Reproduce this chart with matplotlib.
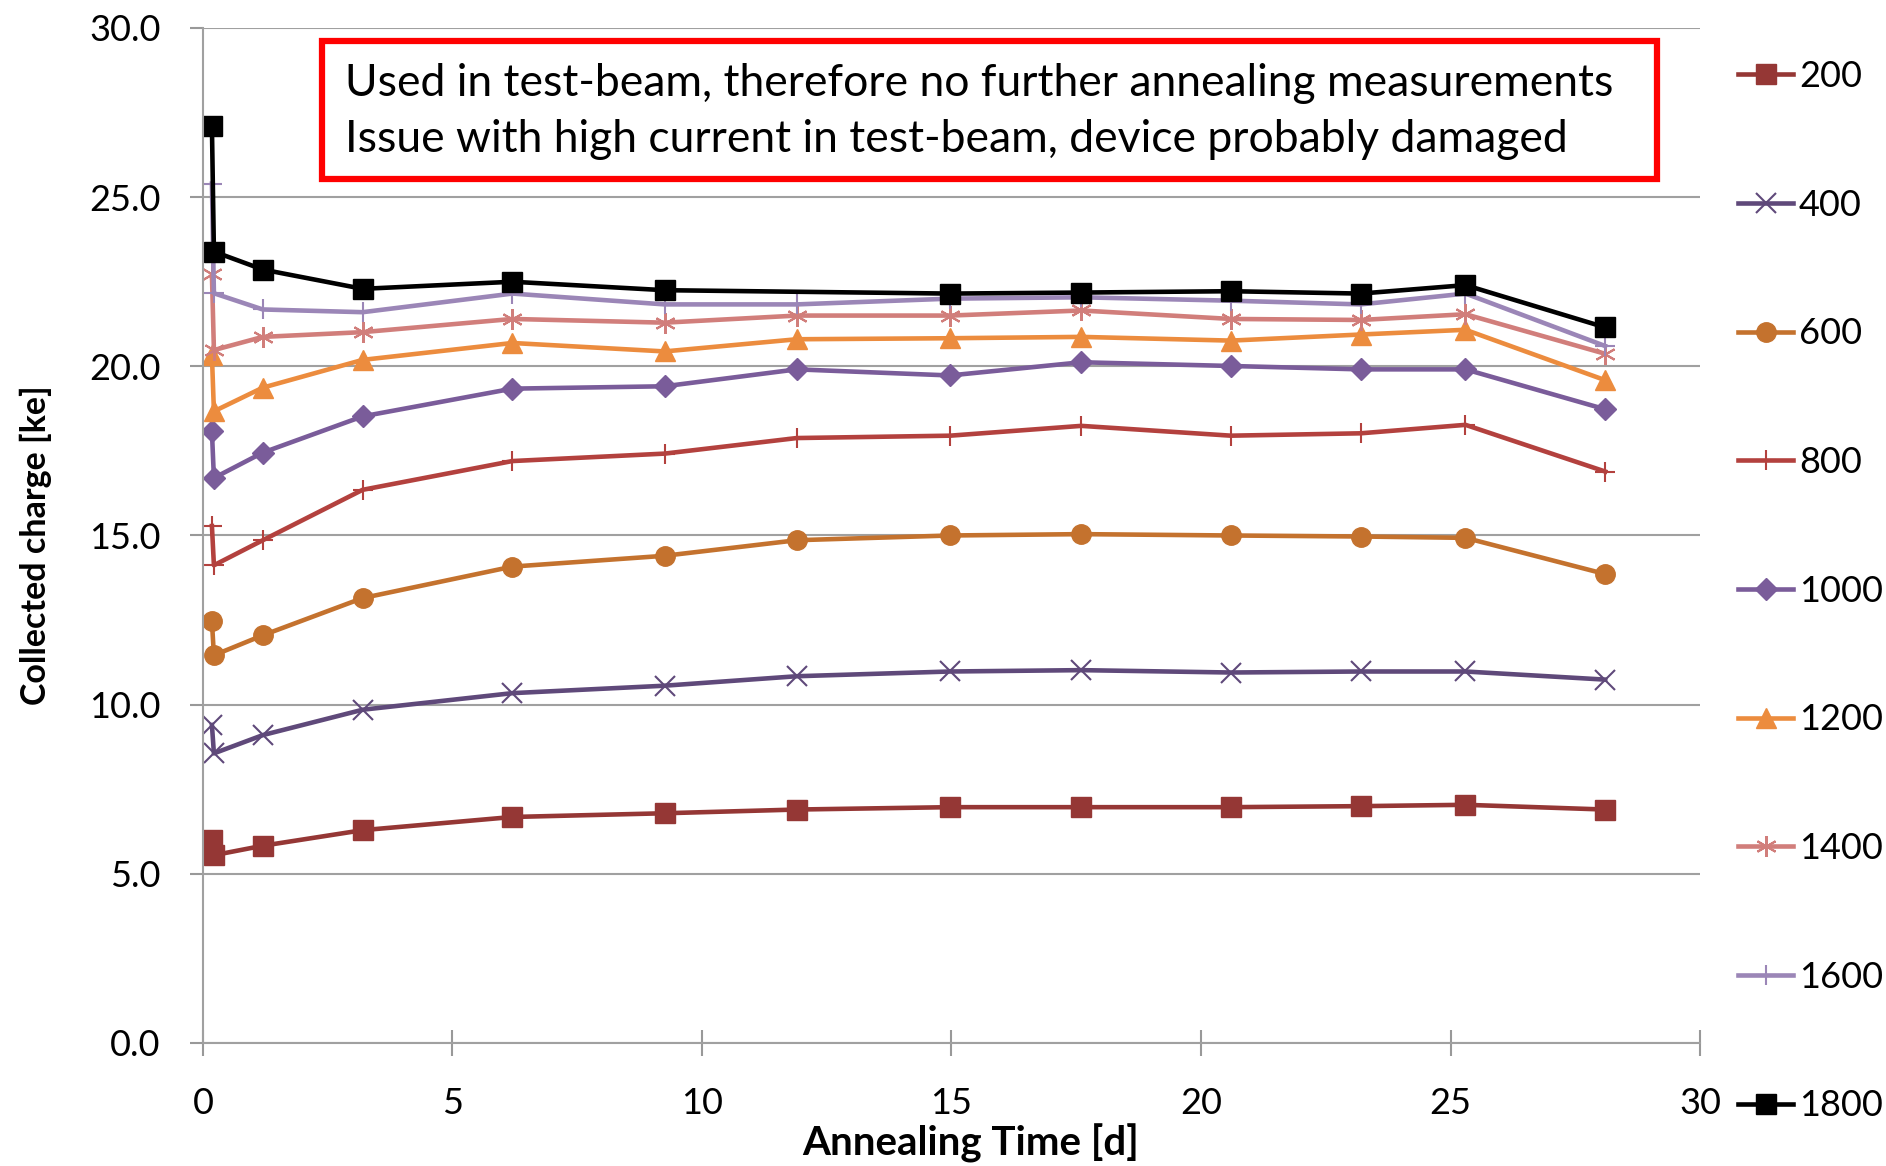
import numpy as np
import matplotlib
matplotlib.use('Agg')
from matplotlib import pyplot as plt
from matplotlib.patches import Rectangle

plt.rcParams['font.family'] = ['Lato', 'DejaVu Sans']

# annealing time [d]
t = [0.18, 0.22, 1.2, 3.2, 6.2, 9.25, 11.9, 14.97, 17.6, 20.6, 23.2, 25.3, 28.1]
t_1800 = [0.18, 0.22, 1.2, 3.2, 6.2, 9.25, 14.97, 17.6, 20.6, 23.2, 25.3, 28.1]

# collected charge [ke] per bias voltage
q_200 = [6.0, 5.55, 5.83, 6.29, 6.68, 6.79, 6.9, 6.97, 6.97, 6.97, 7.0, 7.04, 6.9]
q_400 = [9.4, 8.56, 9.1, 9.85, 10.34, 10.56, 10.84, 10.98, 11.02, 10.95, 10.98, 10.98, 10.74]
q_600 = [12.46, 11.46, 12.05, 13.15, 14.08, 14.4, 14.86, 15.0, 15.04, 15.0, 14.97, 14.93, 13.86]
q_800 = [15.28, 14.12, 14.86, 16.35, 17.2, 17.42, 17.88, 17.95, 18.24, 17.95, 18.02, 18.27, 16.89]
q_1000 = [18.08, 16.7, 17.45, 18.52, 19.34, 19.41, 19.91, 19.73, 20.12, 20.01, 19.91, 19.91, 18.73]
q_1200 = [20.33, 18.67, 19.37, 20.19, 20.69, 20.44, 20.8, 20.83, 20.87, 20.76, 20.94, 21.08, 19.59]
q_1400 = [22.72, 20.48, 20.87, 21.01, 21.4, 21.29, 21.5, 21.5, 21.65, 21.4, 21.37, 21.54, 20.37]
q_1600 = [25.4, 22.16, 21.68, 21.6, 22.15, 21.83, 21.83, 22.0, 22.04, 21.94, 21.83, 22.15, 20.6]
q_1800 = [27.09, 23.39, 22.86, 22.29, 22.5, 22.25, 22.15, 22.18, 22.22, 22.15, 22.4, 21.15]

note1 = 'Used in test-beam, therefore no further annealing measurements'
note2 = 'Issue with high current in test-beam, device probably damaged'

fig = plt.figure(figsize=(18.86, 11.66), dpi=100)
ax = fig.add_axes([0.1076, 0.1055, 0.7938, 0.8705])

lw = 3.3
ax.plot(t, q_200, color='#953735', lw=lw, marker='s', ms=14, label='200')
ax.plot(t, q_400, color='#5f497a', lw=lw, marker='x', ms=14, mew=1.5, label='400')
ax.plot(t, q_600, color='#c4722e', lw=lw, marker='o', ms=14, label='600')
ax.plot(t, q_800, color='#b3413e', lw=lw, marker='+', ms=14, mew=1.5, label='800')
ax.plot(t, q_1000, color='#7a5c9a', lw=lw, marker='D', ms=11, label='1000')
ax.plot(t, q_1200, color='#ec8c3e', lw=lw, marker='^', ms=14, label='1200')
ax.plot(t, q_1400, color='#d17e7b', lw=lw, marker=(6, 2, 0), ms=15, mew=1.5, label='1400')
ax.plot(t, q_1600, color='#9b86b7', lw=lw, marker='+', ms=14, mew=1.5, label='1600')
ax.plot(t_1800, q_1800, color='black', lw=lw, marker='s', ms=14, label='1800')

ax.set_xlim(0, 30)
ax.set_ylim(0, 30)
ax.set_xticks(np.arange(0, 31, 5))
ax.set_yticks(np.arange(0, 31, 5))
ax.set_yticklabels(['%.1f' % v for v in np.arange(0, 31, 5)])
ax.tick_params(labelsize=26, width=1.5, color='#999999')
ax.tick_params(axis='x', direction='inout', length=19, pad=22)
ax.tick_params(axis='y', direction='out', length=9.5, pad=21)
ax.grid(axis='y', color='#a0a0a0', lw=1.5)
ax.set_axisbelow(True)
for s in ['top', 'right']:
    ax.spines[s].set_visible(False)
for s in ['left', 'bottom']:
    ax.spines[s].set_color('#a0a0a0')
    ax.spines[s].set_linewidth(1.5)

ax.set_xlabel('Annealing Time [d]', fontsize=29, fontweight='bold', va='center')
ax.set_ylabel('Collected charge [ke]', fontsize=24.5, fontweight='bold', va='center')
ax.xaxis.set_label_coords(0.513, -0.0985)
ax.yaxis.set_label_coords(-0.1116, 0.49)

# note box
fig.patches.append(Rectangle((0.1707, 0.8465), 0.7079, 0.1183, transform=fig.transFigure,
                             fc='white', ec='#ff0000', lw=4.5, zorder=5))
fig.text(0.1829, 0.9288, note1, fontsize=32, va='center', ha='left', zorder=6)
fig.text(0.1829, 0.8804, note2, fontsize=32, va='center', ha='left', zorder=6)

fig.legend(loc='upper left', bbox_to_anchor=(0.9139, 0.961), frameon=False,
           fontsize=26, handlelength=1.52, handletextpad=0.17, labelspacing=2.65,
           borderaxespad=0)

fig.savefig('out.png', dpi=100)
